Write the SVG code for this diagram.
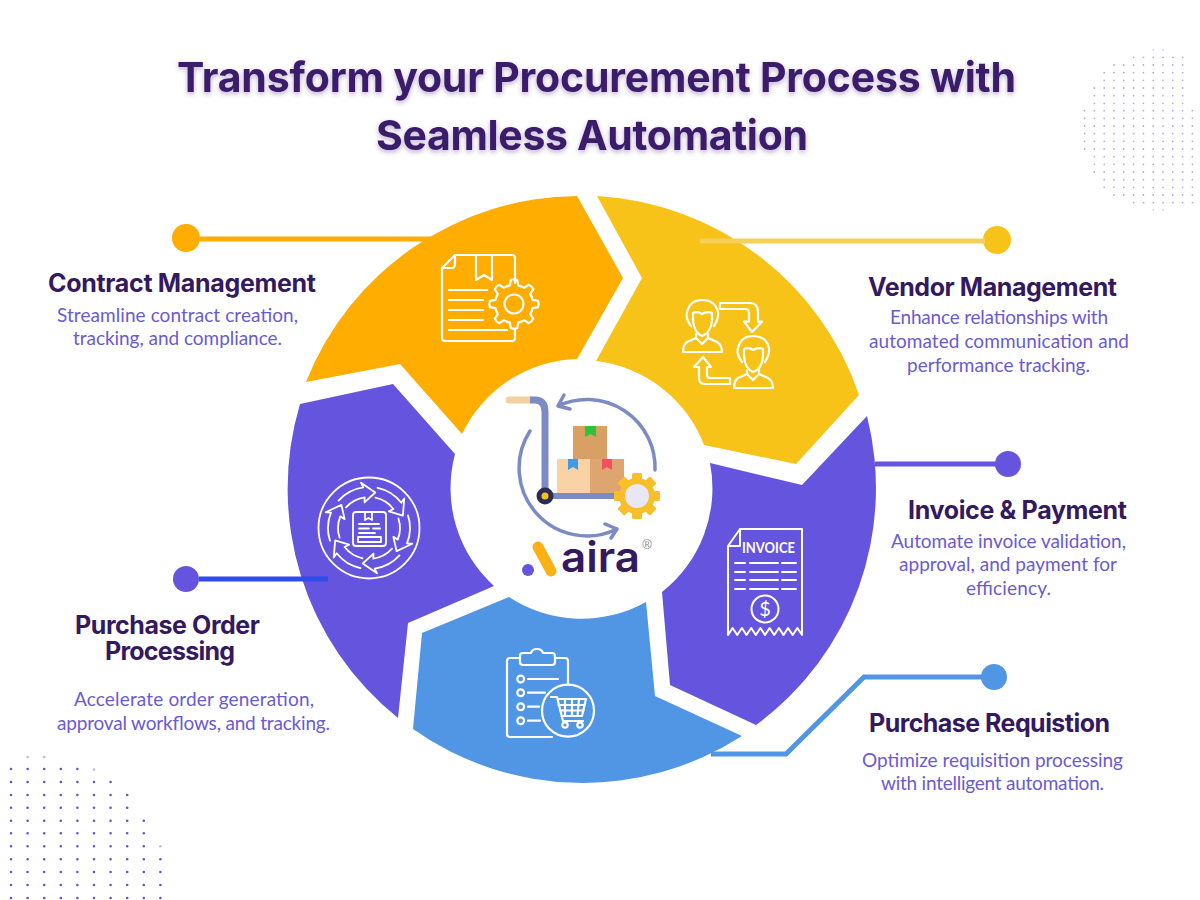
<svg xmlns="http://www.w3.org/2000/svg" width="1200" height="900" viewBox="0 0 1200 900">
<style>
.title{font:700 41px Inter,"Liberation Sans",sans-serif;fill:#3a1c6b}
.h{font:700 25px Inter,"Liberation Sans",sans-serif;fill:#33195f}
.b{font:400 19px Lato,"Liberation Sans",sans-serif;fill:#6a5bd0}
.ic{fill:none;stroke:#fff;stroke-width:2.2;stroke-linecap:round;stroke-linejoin:round}
.ln{fill:none;stroke-width:5}
.dl{stroke:#6555c8;stroke-width:2.6;stroke-linecap:round;stroke-dasharray:0 16.6}
.dt{stroke:#b4afe0;stroke-width:1.8;stroke-linecap:round;stroke-dasharray:0 9.8}
.ca{fill:none;stroke:#7c8bc4;stroke-width:3.5;stroke-linecap:round;stroke-linejoin:round}
</style>
<defs>
<filter id="glow" x="-5%" y="-20%" width="110%" height="150%"><feDropShadow dx="0" dy="2" stdDeviation="2.5" flood-color="#3a1c6b" flood-opacity=".35"/></filter>
<path id="tooth" d="M-7.3-17.6L-4.2-18.6L-3.2-24Q0-25.5 3.2-24L4.2-18.6L7.3-17.6"/>
<path id="ringarrow" d="M-20.5-35.5A41 41 0 0 1 7.1-40.4L6.4-45.6L16.9-31.8L3.6-25.7L5.4-30.5A31 31 0 0 0-15.5-26.8"/>
<g id="person">
<path d="M691 326Q685 318 687 312Q690 300 702 300Q715 300 718 312Q719 318 714 326"/>
<path d="M693 313V320Q694 333 702 336Q711 333 712 320V313Q707 311 702 314Q698 311 693 313Z"/>
<path d="M696 334V338L687 342Q683 345 683 352H722Q722 345 717 342L708 338V334M696 338L702 344L708 338"/>
</g>
</defs>
<rect width="1200" height="900" fill="#fff"/>

<g id="dots-top-right" class="dots">
<g class="dt" opacity=".55"><line x1="1153.3" x2="1163.4" y1="50" y2="50"/><line x1="1153.3" x2="1163.4" y1="210" y2="210"/></g>
<g class="dt">
<line x1="1133.7" x2="1183.1" y1="57.3" y2="57.3"/>
<line x1="1114" x2="1183.1" y1="65" y2="65"/>
<line x1="1104.2" x2="1183.1" y1="72.7" y2="72.7"/>
<line x1="1104.2" x2="1183.1" y1="80.3" y2="80.3"/>
<line x1="1094.4" x2="1183.1" y1="88" y2="88"/>
<line x1="1094.4" x2="1183.1" y1="95.7" y2="95.7"/>
<line x1="1094.4" x2="1183.1" y1="103.3" y2="103.3"/>
<line x1="1084.6" x2="1192.8" y1="110.7" y2="110.7"/>
<line x1="1084.6" x2="1192.8" y1="118.3" y2="118.3"/>
<line x1="1084.6" x2="1192.8" y1="126" y2="126"/>
<line x1="1084.6" x2="1192.8" y1="133.7" y2="133.7"/>
<line x1="1084.6" x2="1192.8" y1="141.3" y2="141.3"/>
<line x1="1084.6" x2="1192.8" y1="149" y2="149"/>
<line x1="1094.4" x2="1192.8" y1="156.7" y2="156.7"/>
<line x1="1094.4" x2="1192.8" y1="164.3" y2="164.3"/>
<line x1="1094.4" x2="1192.8" y1="172" y2="172"/>
<line x1="1104.2" x2="1192.8" y1="179.7" y2="179.7"/>
<line x1="1104.2" x2="1192.8" y1="187.3" y2="187.3"/>
<line x1="1114" x2="1192.8" y1="195" y2="195"/>
<line x1="1133.7" x2="1192.8" y1="202.7" y2="202.7"/>
</g>
</g>
<g id="dots-bottom-left" class="dots">
<g class="dl" opacity=".4"><line x1="27.6" x2="44.3" y1="757" y2="757"/><line x1="94" x2="94.1" y1="769.5" y2="769.5"/><line x1="160.4" x2="160.5" y1="846.3" y2="846.3"/></g>
<g class="dl">
<line x1="11" x2="77.5" y1="769" y2="769"/>
<line x1="11" x2="110.7" y1="782" y2="782"/>
<line x1="11" x2="127.3" y1="795" y2="795"/>
<line x1="11" x2="127.3" y1="807.7" y2="807.7"/>
<line x1="11" x2="143.9" y1="820.7" y2="820.7"/>
<line x1="11" x2="143.9" y1="833.3" y2="833.3"/>
<line x1="11" x2="143.9" y1="846.3" y2="846.3"/>
<line x1="11" x2="160.5" y1="859.3" y2="859.3"/>
<line x1="11" x2="160.5" y1="872" y2="872"/>
<line x1="11" x2="160.5" y1="885" y2="885"/>
<line x1="11" x2="160.5" y1="898" y2="898"/>
</g>
</g>

<g id="title" filter="url(#glow)">
<text class="title" x="177" y="92" textLength="839">Transform your Procurement Process with</text>
<text class="title" x="376" y="150" textLength="432">Seamless Automation</text>
</g>

<g id="contract-management">
<path fill="#ffad00" d="M306 382A294 294 0 0 1 577 196L623 278L577 359A132 132 0 0 0 462 434L400 364Z"/>
<g class="ic">
<path d="M515 283V258Q515 255 512 255H455L442 268V338Q442 341 445 341H512Q515 341 515 338V329"/>
<path d="M455 255V264Q455 268 451 268H442M476 255V280L484 275L492 280V255"/>
<path d="M449 290H487M449 300H483M449 310H483M449 320H483M449 330H507"/>
<circle cx="514" cy="304" r="9.5"/>
<g transform="translate(514 304)"><use href="#tooth"/><use href="#tooth" transform="rotate(45)"/><use href="#tooth" transform="rotate(90)"/><use href="#tooth" transform="rotate(135)"/><use href="#tooth" transform="rotate(180)"/><use href="#tooth" transform="rotate(225)"/><use href="#tooth" transform="rotate(270)"/><use href="#tooth" transform="rotate(315)"/></g>
</g>
<circle cx="186" cy="238" r="14" fill="#ffad00"/>
<text class="h" x="48" y="292" textLength="268">Contract Management</text>
<text class="b" x="57" y="322" textLength="241">Streamline contract creation,</text>
<text class="b" x="73" y="345" textLength="209">tracking, and compliance.</text>
</g>

<g id="vendor-management">
<path fill="#f8c319" d="M597 196A294 294 0 0 1 859 395L796 464L704 445A132 132 0 0 0 596 361L642 278Z"/>
<g class="ic">
<use href="#person"/>
<use href="#person" transform="translate(51 36)"/>
<path d="M720 303H750Q758 303 758 312V321.7H762L752 332L744 321.7H749V313Q749 309 745 309H720Z"/>
<path d="M730 378H710Q707 378 707 375V367H711L703 357L694 367H699V378Q699 384 705 384H730Z"/>
</g>
<circle cx="997" cy="240" r="14" fill="#f8c319"/>
<text class="h" x="868" y="296" textLength="249">Vendor Management</text>
<text class="b" x="890" y="324" textLength="218">Enhance relationships with</text>
<text class="b" x="869" y="348" textLength="260">automated communication and</text>
<text class="b" x="907" y="372" textLength="183">performance tracking.</text>
</g>

<g id="invoice-payment">
<path fill="#6555de" d="M867 416A294 294 0 0 1 756 725L670 685L662 592A132 132 0 0 0 710 463L802 485Z"/>
<g class="ic" style="stroke-width:2">
<path d="M740 529H802V635L797.4 628L792.7 635L788 628L783.5 635L778.9 628L774.2 635L769.6 628L765 635L760.4 628L755.8 635L751.2 628L746.5 635L741.9 628L737.2 635L732.6 628L728 635V546L740 529V546H728"/>
<path d="M735 563H745M750 563H778M782 563H796M735 572H745M750 572H778M782 572H796M735 580H745M750 580H778M782 580H796M735 589H745M750 589H778M782 589H796"/>
<circle cx="765" cy="609" r="13.5"/>
</g>
<text x="742" y="552.500" textLength="53" lengthAdjust="spacingAndGlyphs" font-family="Lato,'Liberation Sans',sans-serif" font-weight="700" font-size="16" fill="#fff">INVOICE</text>
<text x="765" y="616" text-anchor="middle" font-family="Lato,'Liberation Sans',sans-serif" font-size="20" fill="#fff">$</text>
<circle cx="1008" cy="464" r="13" fill="#6555de"/>
<text class="h" x="908" y="519" textLength="219">Invoice &amp; Payment</text>
<text class="b" x="891" y="548" textLength="235">Automate invoice validation,</text>
<text class="b" x="899" y="571" textLength="218">approval, and payment for</text>
<text class="b" x="966" y="595" textLength="85">efficiency.</text>
</g>

<g id="purchase-requisition">
<path fill="#5196e5" d="M509 597A132 132 0 0 0 646 602L655 696L742 736A294 294 0 0 1 413 729L422 633Z"/>
<g class="ic">
<path d="M568 684V661Q568 658 565 658H555M520 658H510Q507 658 507 661V734Q507 737 510 737H552"/>
<path d="M523 653H531Q532 649 537 649Q542 649 543 653H552Q555 653 555 656V662Q555 665 552 665H523Q520 665 520 662V656Q520 653 523 653Z"/>
<circle cx="520.7" cy="679" r="3.4"/><circle cx="520.7" cy="692.7" r="3.4"/><circle cx="520.7" cy="706.7" r="3.4"/><circle cx="520.7" cy="720.7" r="3.4"/>
<path d="M528 679H558M528 692.7H545M528 706.7H539M528 720.7H540"/>
<circle cx="568" cy="710.7" r="26"/>
<path d="M551 697H557L563 721H583M557.5 699H586L582 716H561.5"/>
<path d="M558.5 705H584.5M560 710.5H583.500M565 699V716M572 699V716M579 699L577.500 716"/>
<circle cx="565" cy="725" r="2.700"/><circle cx="580" cy="725" r="2.700"/>
</g>
<circle cx="994" cy="677" r="13" fill="#5196e5"/>
<text class="h" x="869" y="732" textLength="241">Purchase Requistion</text>
<text class="b" x="862" y="767" textLength="261">Optimize requisition processing</text>
<text class="b" x="881" y="790" textLength="223">with intelligent automation.</text>
</g>

<g id="purchase-order-processing">
<path fill="#6555de" d="M300 404L393 384L455 454A132 132 0 0 0 494 586L408 623L398 718A294 294 0 0 1 300 404Z"/>
<g class="ic" style="stroke-width:1.800">
<circle cx="369" cy="528" r="50.500"/>
<g transform="translate(369 528) rotate(-18)"><use href="#ringarrow"/><use href="#ringarrow" transform="rotate(60)"/><use href="#ringarrow" transform="rotate(120)"/><use href="#ringarrow" transform="rotate(180)"/><use href="#ringarrow" transform="rotate(240)"/><use href="#ringarrow" transform="rotate(300)"/></g>
<rect x="353" y="512" width="33" height="34" rx="3"/>
<path d="M365 512V520L368.500 518L372 520V512M359 524H379M359 528.500H369M373 528.500H380M359 533H375M358 537H381V542H358Z"/>
</g>
<circle cx="186" cy="579" r="13" fill="#6555de"/>
<text class="h" x="75" y="634" textLength="185">Purchase Order</text>
<text class="h" x="105" y="660" textLength="130">Processing</text>
<text class="b" x="74" y="706" textLength="240">Accelerate order generation,</text>
<text class="b" x="57" y="730" textLength="273">approval workflows, and tracking.</text>
</g>

<g id="center">
<line x1="509" y1="400" x2="530" y2="400" stroke="#f5cfa0" stroke-width="7" stroke-linecap="round"/>
<path d="M530 400H535Q545 400 545 412V495" fill="none" stroke="#7c8bc4" stroke-width="7"/>
<line x1="550" y1="496" x2="620" y2="496" stroke="#7c8bc4" stroke-width="6"/>
<rect x="573" y="426" width="34" height="33" fill="#d9a066"/>
<rect x="557" y="459" width="33" height="34" fill="#f9d2a5"/>
<rect x="590" y="459" width="34" height="34" fill="#dda56f"/>
<path d="M585 426H596V437L590.500 434L585 437Z" fill="#2fc23c"/>
<path d="M568 459H578V470L573 467L568 470Z" fill="#3f9be8"/>
<path d="M602 459H612V470L607 467L602 470Z" fill="#f2505a"/>
<circle cx="545" cy="496" r="8.500" fill="#2b2b55"/><circle cx="545" cy="496" r="3.500" fill="#f8c319"/>
<path class="ca" d="M655 470A68 68 0 0 0 558 406M564 395L558 406L570 409"/>
<path class="ca" d="M530 431A68 68 0 0 0 617 529M605 524L617 529L611 538"/>
<g transform="translate(637 496)">
<g fill="#f9bf2b"><circle r="18"/><g id="ct"><rect x="-5" y="-23" width="10" height="8" rx="1.500"/><rect x="-5" y="15" width="10" height="8" rx="1.500"/><rect x="-23" y="-5" width="8" height="10" rx="1.500"/><rect x="15" y="-5" width="8" height="10" rx="1.500"/></g><use href="#ct" transform="rotate(45)"/></g>
<circle r="12" fill="#e9e7f5"/>
</g>
<circle cx="528" cy="570" r="6" fill="#6555de"/>
<line x1="538" y1="547" x2="551" y2="571" stroke="#fbb116" stroke-width="11" stroke-linecap="round"/>
<text x="561" y="572" textLength="79" lengthAdjust="spacingAndGlyphs" font-family="Inter,'Liberation Sans',sans-serif" font-weight="600" font-size="42" fill="#35195f">aira</text>
<text x="647" y="549" text-anchor="middle" font-family="'Liberation Sans',sans-serif" font-size="13" fill="#888">®</text>
</g>

<g id="connectors">
<line class="ln" x1="200" y1="239" x2="432" y2="239" stroke="#ffad00"/>
<line class="ln" x1="700" y1="241" x2="985" y2="241" stroke="#f6d05a"/>
<line class="ln" x1="875" y1="464" x2="997" y2="464" stroke="#6555de"/>
<polyline class="ln" points="711,754 786,754 864,677 984,677" stroke="#5196e5"/>
<line class="ln" x1="199" y1="579" x2="328" y2="579" stroke="#2f4be8"/>
</g>
</svg>
